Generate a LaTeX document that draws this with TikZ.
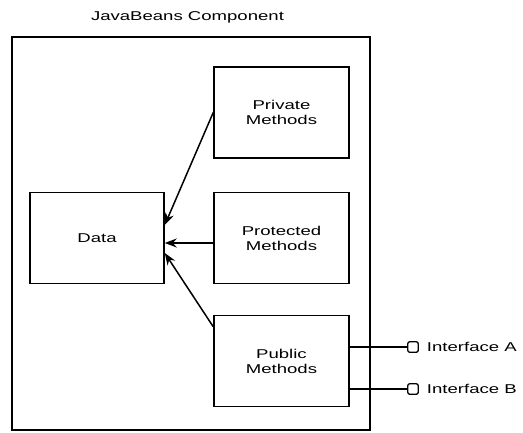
\documentclass[tikz,border=0pt]{standalone}
\usepackage{fontspec}
\newfontfamily\beanfont[FakeStretch=1.45]{Liberation Sans}
\usetikzlibrary{arrows.meta}

\begin{document}
\begin{tikzpicture}[x=1pt,y=-1pt,line width=1.5pt,
		every node/.style={font=\beanfont\fontsize{12.8}{15}\selectfont},
		method/.style={draw,minimum width=135pt,minimum height=91pt,align=center,inner sep=0pt},
		port/.style={draw,minimum size=10.5pt,inner sep=0pt,rounded corners=2pt,line width=1.3pt},
		uses/.style={-{Stealth[length=12pt,width=9pt]}}]
		\useasboundingbox (0,0) rectangle (523,432);

		% Component boundary
		\draw (12,37) rectangle (370,430);
		\node (title) at (187.5,17) {JavaBeans Component};

		% Methods and data
		\node[method] (priv) at (281.5,112.5) {Private\\Methods};
		\node[method] (prot) at (281.5,238) {Protected\\Methods};
		\node[method] (pub) at (281.5,361) {Public\\Methods};
		\node[method,minimum width=134pt] (data) at (97,238) {Data};

		% Access to the data
		\draw[uses] (priv.west) -- ([yshift=13pt]data.east);
		\draw[uses] ([yshift=-5pt]prot.west) -- ([yshift=-5pt]data.east);
		\draw[uses] ([yshift=-12pt]pub.north west) -- ([yshift=-15pt]data.east);

		% Interfaces
		\node[port] (ifA) at (413,347) {};
		\node[port] (ifB) at (413,389) {};
		\node[anchor=west,xshift=4pt] (labA) at (ifA.east) {Interface A};
		\node[anchor=west,xshift=4pt] (labB) at (ifB.east) {Interface B};
		\draw ([yshift=14pt]pub.east) -- (ifA);
		\draw ([yshift=-28pt]pub.east) -- (ifB);
	\end{tikzpicture}
\end{document}
